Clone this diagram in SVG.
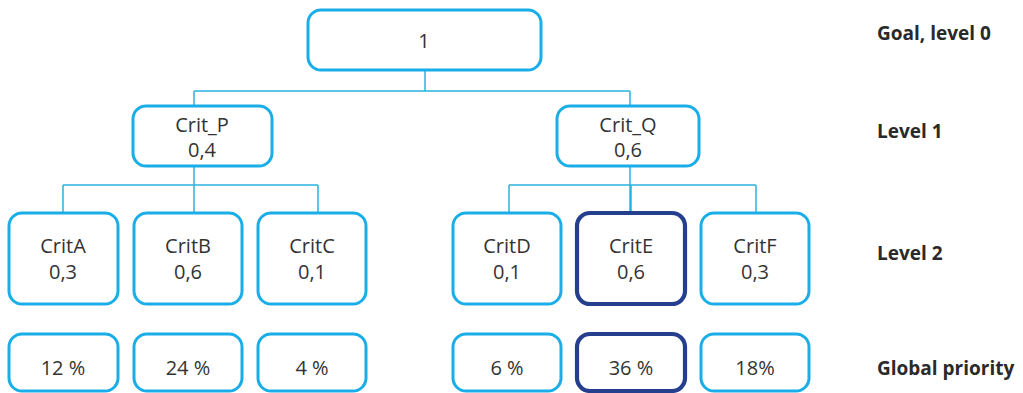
<svg xmlns="http://www.w3.org/2000/svg" width="1023" height="393" viewBox="0 0 1023 393">
  <style>
    .box { fill: #ffffff; stroke: #1aaee8; stroke-width: 3; }
    .sel { fill: #ffffff; stroke: #263e8e; stroke-width: 4.2; }
    .lbl { font-family: "Open Sans", "Noto Sans", sans-serif; font-size: 20px; fill: #333333; text-anchor: middle; }
    .lvl { font-family: "Open Sans", "Noto Sans", sans-serif; font-size: 19px; font-weight: bold; fill: #2a2a2a; }
    .wire { stroke: #2bb3e0; stroke-width: 1.5; fill: none; }
  </style>

  <g id="connectors">
    <path class="wire" d="M425,71 V91 M194,91 H630 M194,91 V106 M630,91 V106"/>
    <path class="wire" d="M194,166 V213 M63,185 H318 M63,185 V213 M194,185 V213 M318,185 V213"/>
    <path class="wire" d="M630,166 V213 M509,185 H756 M509,185 V213 M631,185 V213 M756,185 V213"/>
  </g>

  <g id="goal">
    <rect class="box" x="308" y="10" width="233" height="60" rx="13"/>
    <text class="lbl" x="424" y="48">1</text>
  </g>

  <g id="crit-p">
    <rect class="box" x="133" y="106" width="139" height="60" rx="13"/>
    <text class="lbl" x="202" y="132">Crit_P</text>
    <text class="lbl" x="202" y="157">0,4</text>
  </g>
  <g id="crit-q">
    <rect class="box" x="557" y="106" width="142" height="60" rx="13"/>
    <text class="lbl" x="628" y="132">Crit_Q</text>
    <text class="lbl" x="628" y="157">0,6</text>
  </g>

  <g id="crit-a">
    <rect class="box" x="9" y="213" width="109" height="91" rx="13"/>
    <text class="lbl" x="63" y="253">CritA</text>
    <text class="lbl" x="63" y="279">0,3</text>
  </g>
  <g id="crit-b">
    <rect class="box" x="134" y="213" width="108" height="91" rx="13"/>
    <text class="lbl" x="188" y="253">CritB</text>
    <text class="lbl" x="188" y="279">0,6</text>
  </g>
  <g id="crit-c">
    <rect class="box" x="258" y="213" width="108" height="91" rx="13"/>
    <text class="lbl" x="312" y="253">CritC</text>
    <text class="lbl" x="312" y="279">0,1</text>
  </g>
  <g id="crit-d">
    <rect class="box" x="453" y="213" width="108" height="91" rx="13"/>
    <text class="lbl" x="507" y="253">CritD</text>
    <text class="lbl" x="507" y="279">0,1</text>
  </g>
  <g id="crit-e">
    <rect class="sel" x="577" y="213" width="108" height="91" rx="13"/>
    <text class="lbl" x="631" y="253">CritE</text>
    <text class="lbl" x="631" y="279">0,6</text>
  </g>
  <g id="crit-f">
    <rect class="box" x="701" y="213" width="108" height="91" rx="13"/>
    <text class="lbl" x="755" y="253">CritF</text>
    <text class="lbl" x="755" y="279">0,3</text>
  </g>

  <g id="global-a">
    <rect class="box" x="9" y="334" width="109" height="57" rx="13"/>
    <text class="lbl" x="63" y="375">12 %</text>
  </g>
  <g id="global-b">
    <rect class="box" x="134" y="334" width="108" height="57" rx="13"/>
    <text class="lbl" x="188" y="375">24 %</text>
  </g>
  <g id="global-c">
    <rect class="box" x="258" y="334" width="108" height="57" rx="13"/>
    <text class="lbl" x="312" y="375">4 %</text>
  </g>
  <g id="global-d">
    <rect class="box" x="453" y="334" width="108" height="57" rx="13"/>
    <text class="lbl" x="507" y="375">6 %</text>
  </g>
  <g id="global-e">
    <rect class="sel" x="577" y="334" width="108" height="57" rx="13"/>
    <text class="lbl" x="631" y="375">36 %</text>
  </g>
  <g id="global-f">
    <rect class="box" x="701" y="334" width="108" height="57" rx="13"/>
    <text class="lbl" x="755" y="375">18%</text>
  </g>

  <g id="level-labels">
    <text class="lvl" x="877" y="40">Goal, level 0</text>
    <text class="lvl" x="877" y="138">Level 1</text>
    <text class="lvl" x="877" y="260">Level 2</text>
    <text class="lvl" x="877" y="375">Global priority</text>
  </g>
</svg>
